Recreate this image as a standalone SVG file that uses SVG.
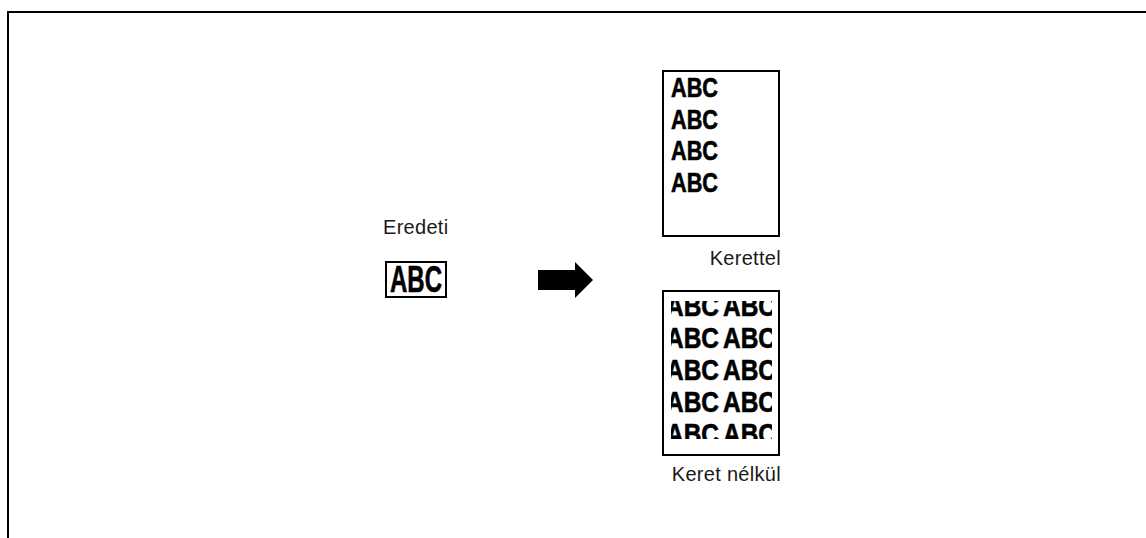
<svg xmlns="http://www.w3.org/2000/svg" width="1146" height="538" viewBox="0 0 1146 538">
<style>
.lbl{font-family:"Liberation Sans",Arial,Helvetica,sans-serif;font-size:20px;letter-spacing:0.3px;fill:#1a1a1a}
.abc{font-family:"Liberation Sans",Arial,Helvetica,sans-serif;font-weight:bold;fill:#000;stroke:#000;stroke-width:0.6}
.box{fill:#fff;stroke:#000;stroke-width:2}
.frame{fill:none;stroke:#000;stroke-width:2}
</style>
<defs>
<clipPath id="tileClip"><rect x="671" y="301" width="101" height="138"/></clipPath>
</defs>
<rect width="1146" height="538" fill="#fff"/>
<g id="frame">
<path class="frame" d="M8 538 V12 H1146"/>
</g>
<g id="original">
<text class="lbl" x="383" y="234">Eredeti</text>
<rect class="box" x="386" y="262" width="60" height="35"/>
<text class="abc" x="390" y="292" font-size="36" textLength="52" lengthAdjust="spacingAndGlyphs">ABC</text>
</g>
<g id="connectors">
<polygon points="538,270 575,270 575,262 593,280 575,298 575,290 538,290" fill="#000"/>
</g>
<g id="with-frame">
<rect class="box" x="663" y="71" width="116" height="165"/>
<g class="abc" font-size="27">
<text x="671" y="97" textLength="47" lengthAdjust="spacingAndGlyphs">ABC</text>
<text x="671" y="129" textLength="47" lengthAdjust="spacingAndGlyphs">ABC</text>
<text x="671" y="160" textLength="47" lengthAdjust="spacingAndGlyphs">ABC</text>
<text x="671" y="192" textLength="47" lengthAdjust="spacingAndGlyphs">ABC</text>
</g>
<text class="lbl" x="781" y="265" text-anchor="end">Kerettel</text>
</g>
<g id="without-frame">
<rect class="box" x="663" y="291" width="116" height="164"/>
<g class="abc" font-size="29" clip-path="url(#tileClip)">
<text x="666" y="316" textLength="53" lengthAdjust="spacingAndGlyphs">ABC</text>
<text x="723" y="316" textLength="53" lengthAdjust="spacingAndGlyphs">ABC</text>
<text x="666" y="348" textLength="53" lengthAdjust="spacingAndGlyphs">ABC</text>
<text x="723" y="348" textLength="53" lengthAdjust="spacingAndGlyphs">ABC</text>
<text x="666" y="380" textLength="53" lengthAdjust="spacingAndGlyphs">ABC</text>
<text x="723" y="380" textLength="53" lengthAdjust="spacingAndGlyphs">ABC</text>
<text x="666" y="412" textLength="53" lengthAdjust="spacingAndGlyphs">ABC</text>
<text x="723" y="412" textLength="53" lengthAdjust="spacingAndGlyphs">ABC</text>
<text x="666" y="444" textLength="53" lengthAdjust="spacingAndGlyphs">ABC</text>
<text x="723" y="444" textLength="53" lengthAdjust="spacingAndGlyphs">ABC</text>
</g>
<text class="lbl" x="781" y="481" text-anchor="end">Keret nélkül</text>
</g>
</svg>
